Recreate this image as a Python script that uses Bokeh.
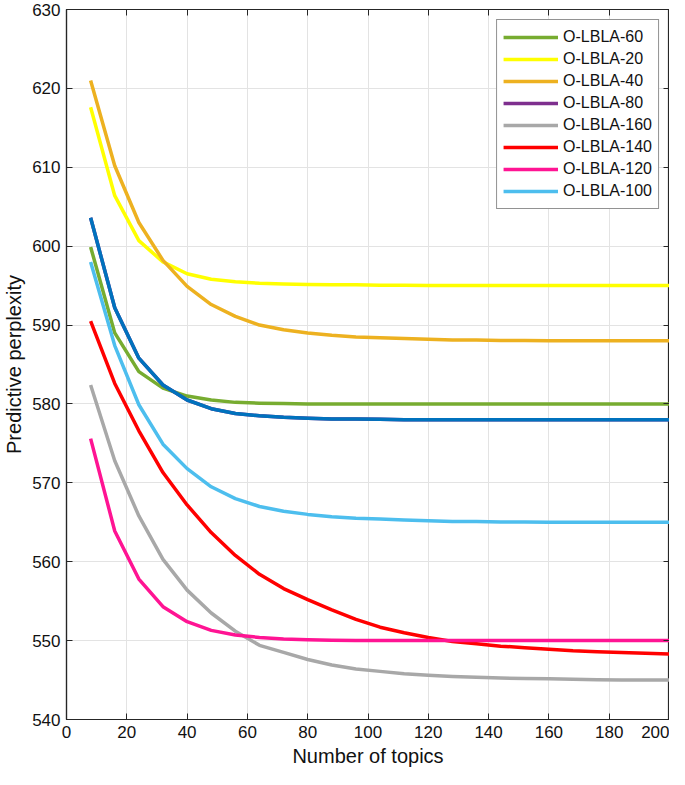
from bokeh.plotting import figure
from bokeh.models import Range1d, FixedTicker, LinearAxis, Legend, LegendItem
from bokeh.embed import file_html
from bokeh.resources import INLINE

topics = [8, 16, 24, 32, 40, 48, 56, 64, 72, 80, 88, 96, 104, 112, 120, 128, 136, 144, 152, 160, 168, 176, 184, 192, 200]

lbla_60 = [599.9, 589.0, 584.1, 582.0, 581.0, 580.5, 580.2, 580.1, 580.05, 580.0, 580.0, 580.0, 580.0, 580.0, 580.0,
           580.0, 580.0, 580.0, 580.0, 580.0, 580.0, 580.0, 580.0, 580.0, 580.0]
lbla_20 = [617.6, 606.4, 600.7, 598.0, 596.5, 595.8, 595.5, 595.3, 595.2, 595.15, 595.1, 595.1, 595.05, 595.05, 595.0,
           595.0, 595.0, 595.0, 595.0, 595.0, 595.0, 595.0, 595.0, 595.0, 595.0]
lbla_40 = [621.0, 610.2, 603.0, 598.2, 594.9, 592.6, 591.1, 590.0, 589.4, 589.0, 588.7, 588.5, 588.4, 588.3, 588.2,
           588.1, 588.1, 588.05, 588.05, 588.0, 588.0, 588.0, 588.0, 588.0, 588.0]
lbla_80 = [603.6, 592.2, 585.8, 582.4, 580.5, 579.4, 578.8, 578.5, 578.3, 578.2, 578.1, 578.1, 578.05, 578.0, 578.0,
           578.0, 578.0, 578.0, 578.0, 578.0, 578.0, 578.0, 578.0, 578.0, 578.0]
lbla_160 = [582.4, 572.8, 565.8, 560.3, 556.4, 553.5, 551.2, 549.4, 548.5, 547.6, 546.9, 546.4, 546.1, 545.8, 545.6,
            545.45, 545.35, 545.25, 545.2, 545.15, 545.1, 545.05, 545.0, 545.0, 545.0]
lbla_140 = [590.5, 582.6, 576.6, 571.3, 567.2, 563.7, 560.8, 558.4, 556.6, 555.2, 553.9, 552.7, 551.7, 551.0, 550.4,
            549.9, 549.6, 549.3, 549.1, 548.9, 548.7, 548.6, 548.5, 548.4, 548.3]
lbla_120 = [575.6, 563.9, 557.8, 554.3, 552.4, 551.3, 550.7, 550.4, 550.2, 550.1, 550.05, 550.0, 550.0, 550.0, 550.0,
            550.0, 550.0, 550.0, 550.0, 550.0, 550.0, 550.0, 550.0, 550.0, 550.0]
lbla_100 = [598.0, 587.4, 579.9, 574.9, 571.8, 569.5, 568.0, 567.0, 566.4, 566.0, 565.7, 565.5, 565.4, 565.3, 565.2,
            565.1, 565.1, 565.05, 565.05, 565.0, 565.0, 565.0, 565.0, 565.0, 565.0]

series_names = ["O-LBLA-60", "O-LBLA-20", "O-LBLA-40", "O-LBLA-80", "O-LBLA-160", "O-LBLA-140", "O-LBLA-120", "O-LBLA-100"]
series_values = [lbla_60, lbla_20, lbla_40, lbla_80, lbla_160, lbla_140, lbla_120, lbla_100]
line_colors = ["#77AC30", "#FFFF00", "#EDB120", "#0072BD", "#A8A8A8", "#FF0000", "#FF1493", "#4DBEEE"]
legend_colors = ["#77AC30", "#FFFF00", "#EDB120", "#7E2F8E", "#A8A8A8", "#FF0000", "#FF1493", "#4DBEEE"]

x_ticks = [0, 20, 40, 60, 80, 100, 120, 140, 160, 180, 200]
y_ticks = [540, 550, 560, 570, 580, 590, 600, 610, 620, 630]

FONT = "Liberation Sans"
AXC = "#262626"

p = figure(width=669, height=769, output_backend="svg", toolbar_location=None,
           x_range=Range1d(0, 200), y_range=Range1d(540, 630),
           min_border_left=10, min_border_right=0, min_border_top=9, min_border_bottom=0)
p.outline_line_color = AXC
p.outline_line_width = 1.2
p.background_fill_color = "white"
p.border_fill_color = "white"

for ax in (p.xaxis[0], p.yaxis[0]):
    ax.major_tick_in = 6
    ax.major_tick_out = 0
    ax.minor_tick_line_color = None
    ax.axis_line_color = AXC
    ax.axis_line_width = 1.2
    ax.major_tick_line_color = AXC
    ax.major_label_text_font = FONT
    ax.major_label_text_font_size = "17px"
    ax.major_label_text_color = "#111111"
    ax.axis_label_text_font = FONT
    ax.axis_label_text_font_size = "20px"
    ax.axis_label_text_font_style = "normal"
    ax.axis_label_text_color = "#111111"

p.xaxis.ticker = FixedTicker(ticks=x_ticks)
p.yaxis.ticker = FixedTicker(ticks=y_ticks)
p.xaxis.axis_label = "Number of topics"
p.yaxis.axis_label = "Predictive perplexity"
p.xaxis.major_label_standoff = 6
p.yaxis.major_label_standoff = 6
p.xaxis.axis_label_standoff = 4
p.yaxis.axis_label_standoff = 4

# box axes (MATLAB style) on top and right, ticks inside, no labels
top = LinearAxis(ticker=FixedTicker(ticks=x_ticks), major_label_text_font_size="0px",
                 major_tick_in=6, major_tick_out=0, minor_tick_line_color=None,
                 axis_line_color=AXC, major_tick_line_color=AXC, major_label_standoff=0)
right = LinearAxis(ticker=FixedTicker(ticks=y_ticks), major_label_text_font_size="0px",
                   major_tick_in=6, major_tick_out=0, minor_tick_line_color=None,
                   axis_line_color=AXC, major_tick_line_color=AXC, major_label_standoff=0)
top.major_label_text_color = None
right.major_label_text_color = None
p.add_layout(top, "above")
p.add_layout(right, "right")

p.xgrid.ticker = FixedTicker(ticks=x_ticks)
p.ygrid.ticker = FixedTicker(ticks=y_ticks)
p.grid.grid_line_color = "#E3E3E3"
p.grid.grid_line_width = 1

items = []
for name, vals, lc, gc in zip(series_names, series_values, line_colors, legend_colors):
    if lc != gc:
        # legend colour drawn underneath, hidden by the plotted line
        proxy = p.line(topics, vals, line_color=gc, line_width=3.5, line_join="round")
        p.line(topics, vals, line_color=lc, line_width=3.5, line_join="round")
        items.append(LegendItem(label=name, renderers=[proxy]))
    else:
        r = p.line(topics, vals, line_color=lc, line_width=3.5, line_join="round")
        items.append(LegendItem(label=name, renderers=[r]))

legend = Legend(items=items, location="top_right")
legend.label_text_font = FONT
legend.label_text_font_size = "16px"
legend.label_text_color = "#111111"
legend.glyph_width = 55
legend.glyph_height = 22
legend.label_height = 22
legend.label_standoff = 5
legend.spacing = 0
legend.padding = 6
legend.margin = 10
legend.border_line_color = AXC
legend.border_line_width = 1
legend.background_fill_color = "white"
legend.background_fill_alpha = 1
p.add_layout(legend, "center")

open("out.html", "w").write(file_html(p, INLINE))
